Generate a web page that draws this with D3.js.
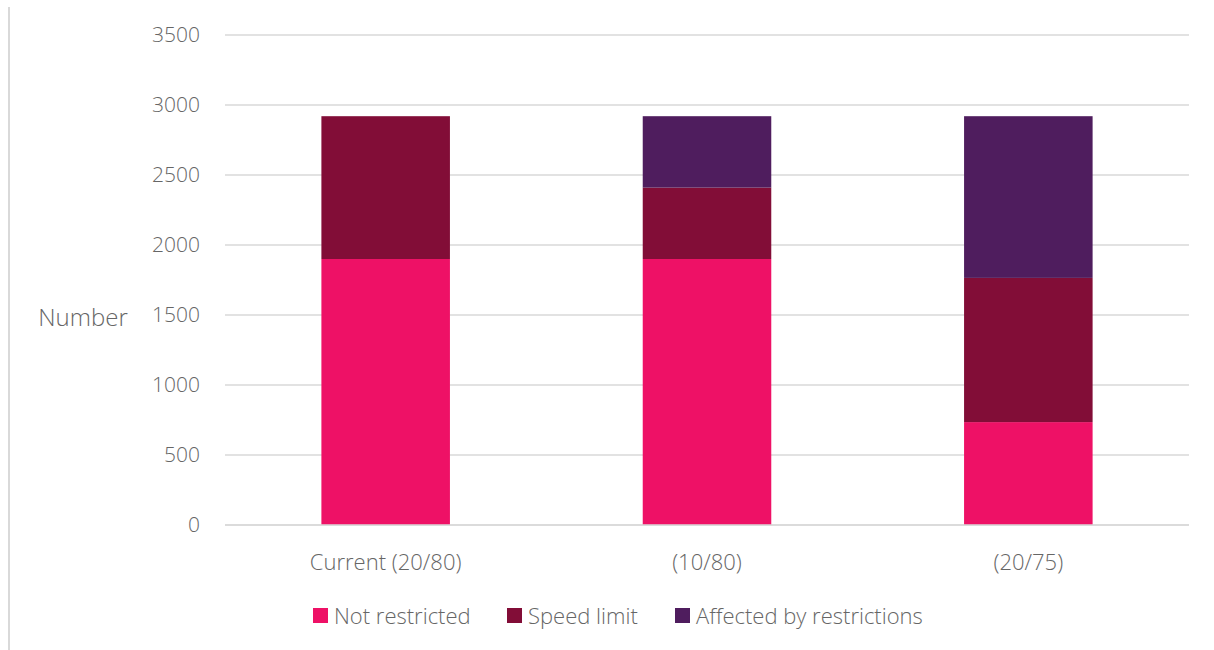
<!DOCTYPE html>
<meta charset="utf-8">
<style>
body { margin: 0; background: #fff; }
text { font-family: "Segoe UI", "Open Sans", sans-serif; font-weight: 300; fill: #666; }
.grid line { stroke: #d9d9d9; stroke-width: 1.5px; }
</style>
<body>
<script src="https://d3js.org/d3.v7.min.js"></script>
<script>

// categories and series
var categories = ["Current (20/80)", "(10/80)", "(20/75)"];
var seriesNames = ["Not restricted", "Speed limit", "Affected by restrictions"];
var notRestricted = [1900, 1900, 735];
var speedLimit = [1020, 510, 1030];
var affected = [0, 510, 1155];
var yTicks = [0, 500, 1000, 1500, 2000, 2500, 3000, 3500];
var colors = ["#ee1166", "#820d37", "#4f1d5e"];

var width = 1214, height = 650;
var plotLeft = 225, plotRight = 1189, plotTop = 35, plotBottom = 525;

var rows = categories.map(function (c, i) {
    return { cat: c, "Not restricted": notRestricted[i], "Speed limit": speedLimit[i], "Affected by restrictions": affected[i] };
});

var svg = d3.select("body").append("svg")
    .attr("width", width)
    .attr("height", height);

// light frame line on the left
svg.append("line")
    .attr("x1", 9).attr("x2", 9)
    .attr("y1", 7).attr("y2", height)
    .attr("stroke", "#d9d9d9")
    .attr("stroke-width", 2);

var x = d3.scaleBand().domain(categories).range([plotLeft, plotRight]).paddingInner(0.6).paddingOuter(0.3);
var y = d3.scaleLinear().domain([0, 3500]).range([plotBottom, plotTop]);

// gridlines
svg.append("g")
    .attr("class", "grid")
    .selectAll("line")
    .data(yTicks)
    .join("line")
    .attr("x1", plotLeft).attr("x2", plotRight)
    .attr("y1", function (d) { return y(d); })
    .attr("y2", function (d) { return y(d); });

// y tick labels
svg.append("g")
    .selectAll("text")
    .data(yTicks)
    .join("text")
    .attr("x", 200)
    .attr("y", function (d) { return y(d); })
    .attr("dy", "0.35em")
    .attr("text-anchor", "end")
    .style("font-size", "21px")
    .text(function (d) { return d; });

svg.append("text")
    .attr("x", 83).attr("y", 318)
    .attr("dy", "0.35em")
    .attr("text-anchor", "middle")
    .style("font-size", "24px")
    .text("Number");

// stacked bars
var stack = d3.stack().keys(seriesNames)(rows);

svg.append("g")
    .selectAll("g")
    .data(stack)
    .join("g")
    .attr("fill", function (d, i) { return colors[i]; })
    .selectAll("rect")
    .data(function (d) { return d.filter(function (p) { return p[1] > p[0]; }); })
    .join("rect")
    .attr("x", function (d) { return x(d.data.cat); })
    .attr("width", x.bandwidth())
    .attr("y", function (d) { return y(d[1]); })
    .attr("height", function (d) { return y(d[0]) - y(d[1]); });

// x axis line drawn over bar bottoms
svg.append("line")
    .attr("x1", plotLeft).attr("x2", plotRight)
    .attr("y1", plotBottom).attr("y2", plotBottom)
    .attr("stroke", "#d9d9d9")
    .attr("stroke-width", 1.5);

// x labels
svg.append("g")
    .selectAll("text")
    .data(categories)
    .join("text")
    .attr("x", function (d) { return x(d) + x.bandwidth() / 2; })
    .attr("y", 562)
    .attr("dy", "0.35em")
    .attr("text-anchor", "middle")
    .style("font-size", "22px")
    .text(function (d) { return d; });

// legend
var legendX = [313, 507, 675];
var legend = svg.append("g")
    .selectAll("g")
    .data(seriesNames)
    .join("g")
    .attr("transform", function (d, i) { return "translate(" + legendX[i] + ",608)"; });

legend.append("rect")
    .attr("width", 15).attr("height", 15)
    .attr("fill", function (d, i) { return colors[i]; });

legend.append("text")
    .attr("x", 21).attr("y", 8)
    .attr("dy", "0.35em")
    .style("font-size", "22px")
    .text(function (d) { return d; });

</script>
</body>
